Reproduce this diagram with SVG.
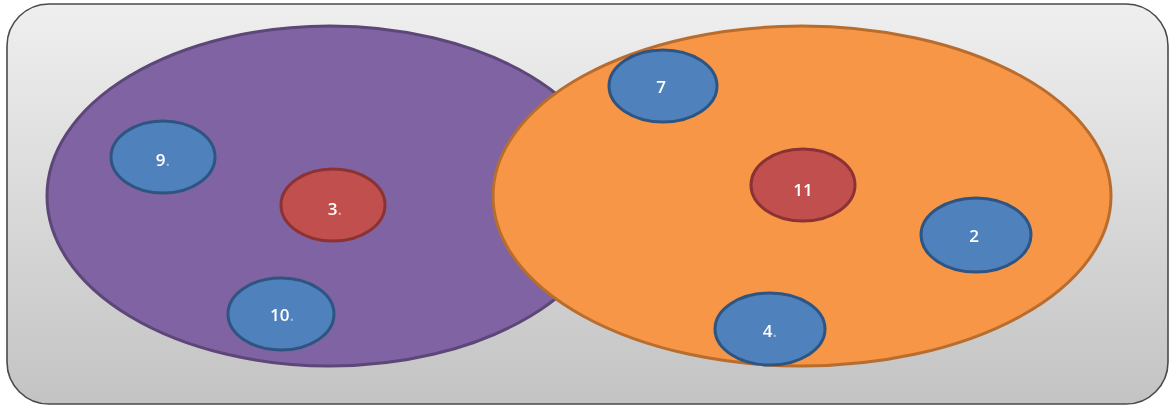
<svg xmlns="http://www.w3.org/2000/svg" width="1173" height="408" viewBox="0 0 1173 408">
  <defs>
    <linearGradient id="panelFill" x1="0" y1="0" x2="0" y2="1">
      <stop offset="0" stop-color="#efefef"/>
      <stop offset="1" stop-color="#c3c3c3"/>
    </linearGradient>
    <filter id="soft" x="-5%" y="-5%" width="110%" height="110%">
      <feGaussianBlur stdDeviation="0.6"/>
    </filter>
  </defs>
  <style>
    .set-purple { fill: #8064a2; stroke: #5c4778; stroke-width: 3; }
    .set-orange { fill: #f79646; stroke: #b86d2e; stroke-width: 3; }
    .item-blue { fill: #4f81bd; stroke: #2f5582; stroke-width: 3; }
    .item-red { fill: #c0504d; stroke: #8c3234; stroke-width: 3; }
    .label { font-family: "Open Sans", "Liberation Sans", sans-serif; font-size: 17px; font-weight: 600; fill: #ffffff; text-anchor: middle; dominant-baseline: central; }
    .dot { fill-opacity: 0.45; }
  </style>

  <!-- background panel -->
  <rect id="panel" x="7" y="4" width="1161" height="400" rx="42" ry="42" fill="url(#panelFill)" stroke="#4a4a4a" stroke-width="1.6"/>

  <!-- the two sets -->
  <g id="set-left" filter="url(#soft)">
    <ellipse class="set-purple" cx="330" cy="196" rx="283" ry="170"/>
  </g>
  <g id="set-right" filter="url(#soft)">
    <ellipse class="set-orange" cx="802" cy="196" rx="309" ry="170"/>
  </g>

  <!-- members -->
  <g id="node-9" filter="url(#soft)">
    <ellipse class="item-blue" cx="163" cy="157" rx="52" ry="36"/>
    <text class="label" x="163" y="159">9<tspan class="dot">.</tspan></text>
  </g>
  <g id="node-3" filter="url(#soft)">
    <ellipse class="item-red" cx="333" cy="205" rx="52" ry="36"/>
    <text class="label" x="335" y="208">3<tspan class="dot">.</tspan></text>
  </g>
  <g id="node-10" filter="url(#soft)">
    <ellipse class="item-blue" cx="281" cy="314" rx="53" ry="36"/>
    <text class="label" x="282" y="314">10<tspan class="dot">.</tspan></text>
  </g>
  <g id="node-7" filter="url(#soft)">
    <ellipse class="item-blue" cx="663" cy="86" rx="54" ry="36"/>
    <text class="label" x="661" y="86">7</text>
  </g>
  <g id="node-11" filter="url(#soft)">
    <ellipse class="item-red" cx="803" cy="185" rx="52" ry="36"/>
    <text class="label" x="803" y="189">11</text>
  </g>
  <g id="node-2" filter="url(#soft)">
    <ellipse class="item-blue" cx="976" cy="235" rx="55" ry="37"/>
    <text class="label" x="974" y="235">2</text>
  </g>
  <g id="node-4" filter="url(#soft)">
    <ellipse class="item-blue" cx="770" cy="329" rx="55" ry="36"/>
    <text class="label" x="770" y="330">4<tspan class="dot">.</tspan></text>
  </g>
</svg>
